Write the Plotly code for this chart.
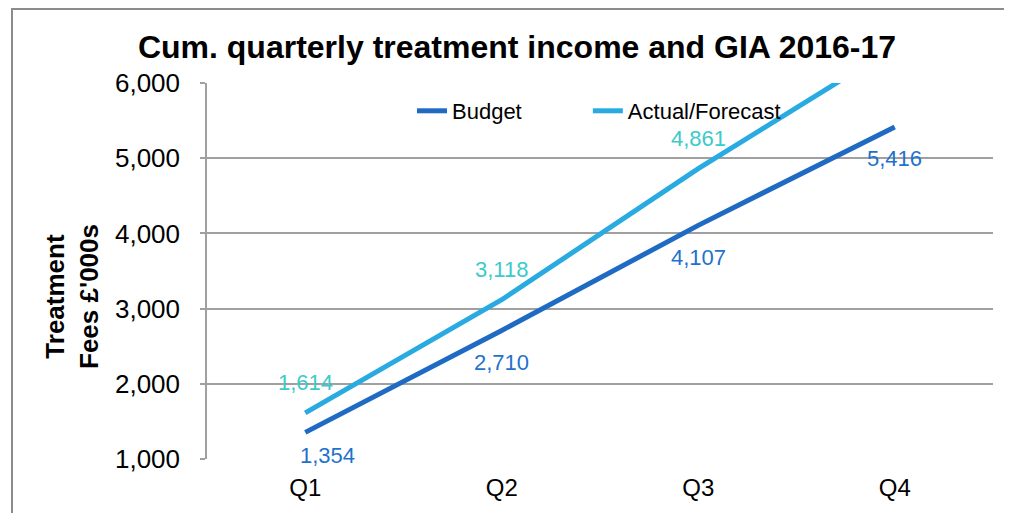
import plotly.graph_objects as go

quarters = ["Q1", "Q2", "Q3", "Q4"]
budget = [1354, 2710, 4107, 5416]
actual = [1614, 3118, 4861, 6480]
budget_labels = ["1,354", "2,710", "4,107", "5,416"]
actual_labels = ["1,614", "3,118", "4,861", "6,480"]
y_ticks = [1000, 2000, 3000, 4000, 5000, 6000]
y_tick_text = ["1,000", "2,000", "3,000", "4,000", "5,000", "6,000"]

BUDGET_C = "#1F6BC4"
ACTUAL_C = "#29ABE2"
BUDGET_LBL = "#1F72CC"
ACTUAL_LBL = "#3CCACA"
FONT = "Liberation Sans, Arial, sans-serif"

# page body has an 8px margin; figure is sized/positioned to compensate
W, H = 1004, 505
L, R, T, B = 199, 19, 75, 54
PW, PH = W - L - R, H - T - B

fig = go.Figure()
fig.add_trace(go.Scatter(x=quarters, y=budget, mode="lines",
                         name="Budget" + "\u00a0" * 10,
                         line=dict(color=BUDGET_C, width=5), cliponaxis=True))
fig.add_trace(go.Scatter(x=quarters, y=actual, mode="lines", name="Actual/Forecast",
                         line=dict(color=ACTUAL_C, width=5), cliponaxis=True))

annotations = []
for i, (q, v, t) in enumerate(zip(quarters, budget, budget_labels)):
    annotations.append(dict(x=q, y=v, text=t, showarrow=False,
                            xshift=22 if i == 0 else 0, yshift=-23 if i == 0 else -32,
                            font=dict(family=FONT, size=22, color=BUDGET_LBL)))
for q, v, t in zip(quarters, actual, actual_labels):
    if v <= 6000:
        annotations.append(dict(x=q, y=v, text=t, showarrow=False, yshift=30,
                                font=dict(family=FONT, size=22, color=ACTUAL_LBL)))

# y-axis title as rotated annotation (centred as in the reference)
annotations.append(dict(xref="paper", yref="paper",
                        x=(63.5 - L) / PW, y=(T + PH - 288.5) / PH,
                        xanchor="center", yanchor="middle", textangle=-90,
                        text="<b>Treatment<br>Fees £'000s</b>", showarrow=False,
                        font=dict(family=FONT, size=26, color="black")))

fig.update_layout(
    width=W, height=H,
    margin=dict(l=L, r=R, t=T, b=B),
    paper_bgcolor="white", plot_bgcolor="white",
    font=dict(family=FONT, color="black"),
    title=dict(text="<b>Cum. quarterly treatment income and GIA 2016-17</b>",
               x=509 / W, xanchor="center", y=1 - 39 / H, yanchor="middle",
               font=dict(family=FONT, size=32, color="black")),
    showlegend=True,
    legend=dict(orientation="h", x=(404 - L) / PW, y=(PH + T - 103) / PH,
                xanchor="left", yanchor="middle",
                bgcolor="rgba(0,0,0,0)", font=dict(family=FONT, size=22, color="black"),
                tracegroupgap=0),
    annotations=annotations,
    shapes=[dict(type="rect", xref="paper", yref="paper",
                 x0=(4 - L) / PW, x1=(1015 - L) / PW,
                 y0=(T + PH - 520) / PH, y1=(T + PH - 1) / PH,
                 line=dict(color="#8C8C8C", width=2), fillcolor="rgba(0,0,0,0)", layer="below")],
)

fig.update_xaxes(type="category", range=[-0.5, 3.5], showgrid=False, showline=False,
                 ticks="", tickfont=dict(family=FONT, size=24, color="black"),
                 ticklabelstandoff=12, zeroline=False)
fig.update_yaxes(range=[1000, 6000], tickvals=y_ticks, ticktext=y_tick_text,
                 showgrid=True, gridcolor="#A0A0A0", gridwidth=1.5,
                 showline=True, linecolor="#A0A0A0", linewidth=1.5,
                 ticks="outside", ticklen=5, tickcolor="#A0A0A0", tickwidth=1.5,
                 tickfont=dict(family=FONT, size=26, color="black"),
                 ticklabelstandoff=15, zeroline=False)

fig.write_html("out.html")
